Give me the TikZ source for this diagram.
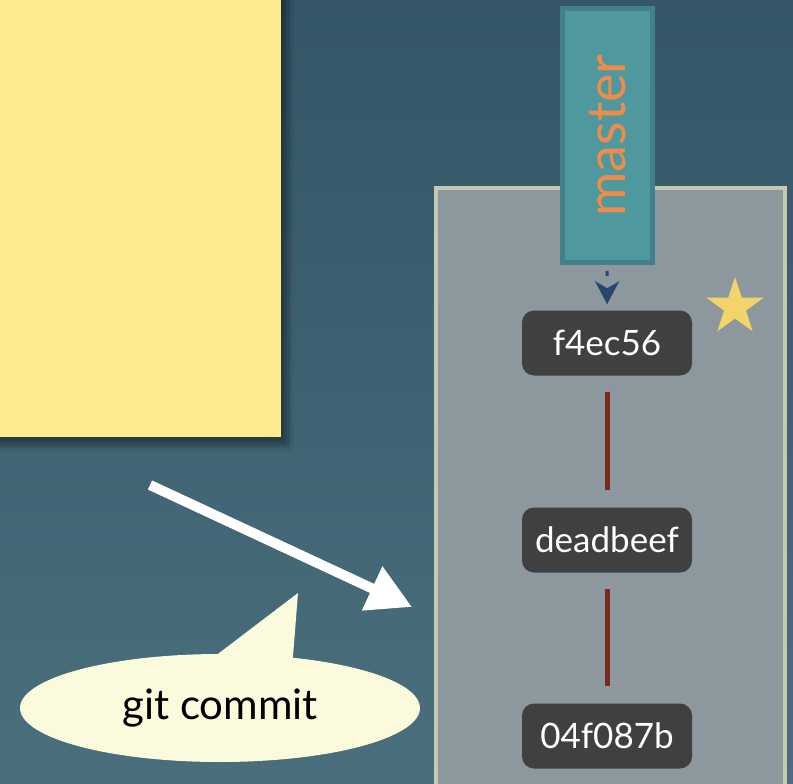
\documentclass[tikz,border=0pt]{standalone}
\usepackage{fontspec}
\setmainfont{Lato}
\usepackage{xcolor}
\usepackage{tikz}
\usetikzlibrary{positioning, shapes.geometric, shapes.callouts, arrows.meta, shadows.blur}
\definecolor{bgtop}{HTML}{345668}
\definecolor{bgbot}{HTML}{4A6F7C}
\definecolor{notefill}{HTML}{FDEB91}
\definecolor{panelfill}{HTML}{8C989D}
\definecolor{panelline}{HTML}{C8C7B2}
\definecolor{branchfill}{HTML}{4F999E}
\definecolor{branchline}{HTML}{42818A}
\definecolor{branchtext}{HTML}{F08C4B}
\definecolor{commitfill}{HTML}{404040}
\definecolor{linkred}{HTML}{7A2A20}
\definecolor{headblue}{HTML}{28466E}
\definecolor{starfill}{HTML}{F2D46A}
\definecolor{calloutfill}{HTML}{FCFADC}

\begin{document}
\begin{tikzpicture}[x=1pt,y=-1pt,
  commitbox/.style={fill=commitfill, rounded corners=12pt, text=white, minimum width=170pt, minimum height=65pt, inner sep=6pt, font=\fontsize{35}{42}\selectfont},
  lnk/.style={draw=linkred, line width=5pt, shorten <=16pt, shorten >=17pt}]
\useasboundingbox (0,0) rectangle (793,784);
\clip (0,0) rectangle (793,784);
\shade[top color=bgtop, bottom color=bgbot] (0,0) rectangle (793,784);

% sticky note and history panel
\fill[notefill, blur shadow={shadow xshift=7pt, shadow yshift=-8pt, shadow blur steps=12, shadow blur radius=6pt}] (-30,-30) rectangle (281,437);
\draw[panelline, line width=4pt, fill=panelfill] (436,188) rectangle (785,830);

\node[rotate=90, draw=branchline, line width=5pt, fill=branchfill, minimum width=254pt, minimum height=90pt, text=branchtext, font=\fontsize{54}{64}\selectfont](master) at (607.5,135.5) {master};

\node[commitbox](c1) at (607,343) {f4ec56};
\node[commitbox](c2) at (607,540) {deadbeef};
\node[commitbox](c3) at (607,736) {04f087b};

\foreach \a/\b in {c1/c2,c2/c3}{
  \draw[lnk](\a)--(\b);}

\draw[headblue, line width=3pt, dash pattern=on 5pt off 12pt, -{Stealth[length=23pt, width=24pt, inset=7pt]}, shorten <=6pt, shorten >=6pt](master)--(c1);

\node[star, star points=5, star point ratio=2.6, fill=starfill, minimum size=60pt, inner sep=0pt](star) at (735,307) {};

\coordinate (from) at (150,485);
\coordinate (to) at (412,607);
\draw[white, line width=10pt, -{Triangle[length=44pt, width=46pt]}](from)--(to);

\node[ellipse callout, fill=calloutfill, minimum width=400pt, minimum height=108pt, callout absolute pointer={(298,593)}, callout pointer arc=22, font=\fontsize{42}{50}\selectfont](say) at (220,708) {git commit};
\end{tikzpicture}
\end{document}
